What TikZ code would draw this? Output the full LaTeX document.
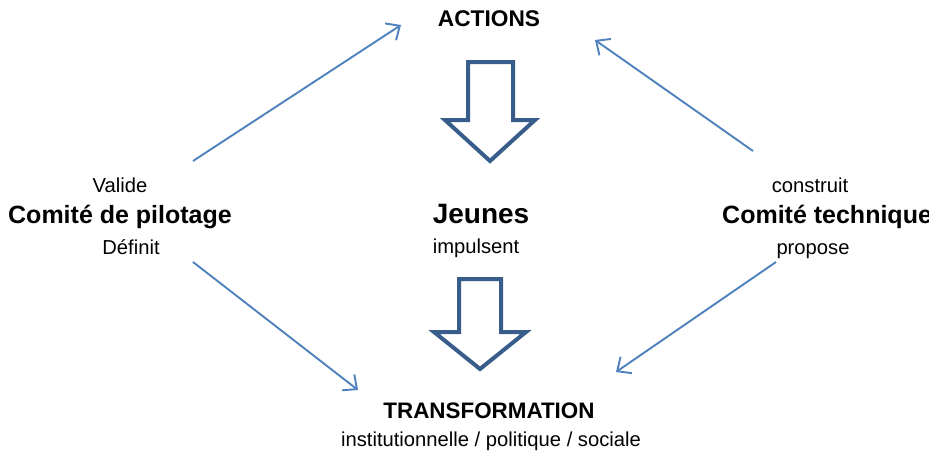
\documentclass[tikz,border=0pt]{standalone}
\usepackage{fontspec}
\setmainfont{Liberation Sans}
\usetikzlibrary{arrows.meta}
\definecolor{thinblue}{HTML}{4F81BD}
\definecolor{blockblue}{HTML}{385D8A}
\tikzset{
  lbl/.style={inner sep=0pt, anchor=base, font=\fontsize{20.2}{24}\selectfont},
  boldlbl/.style={inner sep=0pt, anchor=base, font=\fontsize{#1}{#1}\selectfont\bfseries},
  thinarrow/.style={draw=thinblue, line width=1.9pt, -{Straight Barb[length=11pt,width=20pt,line width=1.9pt]}},
  blockarrow/.style={draw=blockblue, line width=4pt, fill=white, line join=miter}
}
\begin{document}
\begin{tikzpicture}[x=1pt,y=-1pt]
\useasboundingbox (0,0) rectangle (929,455);
% texts
\node[boldlbl=22.7] (actions) at (489,26) {ACTIONS};
\node[lbl] (valide) at (120,192) {Valide};
\node[boldlbl=25] (copil) at (120,223) {Comité de pilotage};
\node[lbl] (definit) at (131,254) {Définit};
\node[boldlbl=28] (jeunes) at (481,223) {Jeunes};
\node[lbl] (impulsent) at (476,253) {impulsent};
\node[lbl] (construit) at (810,192) {construit};
\node[boldlbl=25, anchor=base west] (cotech) at (722,223) {Comité technique};
\node[lbl] (propose) at (813,254) {propose};
\node[boldlbl=22.4] (transfo) at (489,418) {TRANSFORMATION};
\node[lbl] (domaines) at (491,446) {institutionnelle / politique / sociale};
% block arrows
\draw[blockarrow] (468,62) -- (513,62) -- (513,120) -- (535,120) -- (490,161) -- (445,120) -- (468,120) -- cycle;
\draw[blockarrow] (459,279) -- (501,279) -- (501,332) -- (526,332) -- (480,369) -- (434,332) -- (459,332) -- cycle;
% thin arrows
\coordinate (a1s) at (193,161);
\coordinate (a1e) at (401,25);
\coordinate (a2s) at (753,151);
\coordinate (a2e) at (595,40);
\coordinate (a3s) at (193,262);
\coordinate (a3e) at (358,390);
\coordinate (a4s) at (776,262);
\coordinate (a4e) at (616,372);
\draw[thinarrow] (a1s) -- (a1e);
\draw[thinarrow] (a2s) -- (a2e);
\draw[thinarrow] (a3s) -- (a3e);
\draw[thinarrow] (a4s) -- (a4e);
\end{tikzpicture}
\end{document}
